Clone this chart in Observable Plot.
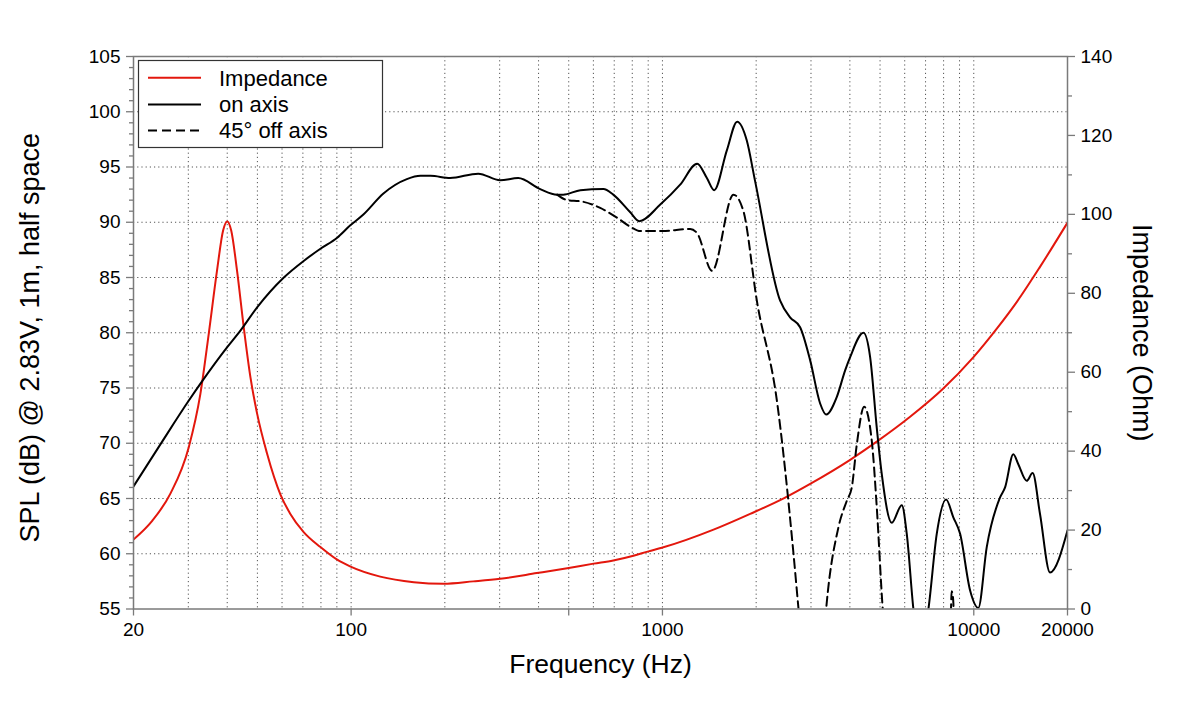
<!DOCTYPE html>
<html>
<head>
<meta charset="utf-8">
<script src="https://cdn.jsdelivr.net/npm/d3@7"></script>
<script src="https://cdn.jsdelivr.net/npm/@observablehq/plot@0.6"></script>
<style>
  html, body { margin: 0; padding: 0; background: #fff; }
  #chart { width: 1200px; height: 720px; }
  svg { font-family: "Liberation Sans", Arial, Helvetica, sans-serif; }
</style>
</head>
<body>
<div id="chart"></div>
<script>
// ---- Data ----
const onAxisFreq = [20, 24.4, 30, 33.2, 40, 44.1, 49.9, 60.8, 70.4, 79.7, 90.2, 99.2, 109.5, 127, 151, 167, 180, 208, 256, 301, 344, 405, 459, 480, 545, 646, 695, 788, 842, 984, 1140, 1293, 1389, 1466, 1610, 1738, 1866, 1985, 2388, 2570, 2768, 2982, 3210, 3356, 3632, 3862, 4008, 4422, 4646, 4880, 5064, 5453, 5872, 6092, 6398, 6700, 7150, 7604, 8148, 8596, 9038, 9728, 10344, 11006, 12146, 12604, 13398, 13900, 14792, 15454, 16320, 17574, 20000];
const onAxisSpl = [66.1, 69.9, 73.8, 75.6, 78.7, 80.2, 82.3, 85.0, 86.5, 87.6, 88.6, 89.7, 90.7, 92.6, 93.9, 94.2, 94.2, 94.0, 94.4, 93.8, 94.0, 93.0, 92.5, 92.5, 92.9, 93.0, 92.5, 90.9, 90.1, 91.6, 93.4, 95.3, 94.0, 92.9, 96.5, 99.1, 97.4, 93.7, 82.9, 81.4, 80.5, 77.5, 73.6, 72.6, 74.2, 76.6, 77.8, 80.0, 77.8, 71.4, 67.2, 62.8, 64.4, 61.8, 55.0, 51.0, 55.0, 61.8, 64.9, 63.3, 61.8, 56.7, 55.1, 60.6, 65.1, 66.0, 69.0, 68.1, 66.6, 67.3, 63.6, 58.3, 62.1];

const offAxisFreq = [459, 495, 545, 631, 716, 788, 849, 1000, 1228, 1293, 1444, 1691, 1820, 2010, 2330, 2636, 2736, 2850, 3250, 3356, 3676, 3910, 4056, 4210, 4444, 4704, 4880, 5100, 5300, 8300, 8440, 8490, 8540, 8600, 8650];
const offAxisSpl = [92.5, 92.0, 91.9, 91.3, 90.4, 89.6, 89.2, 89.2, 89.4, 89.0, 85.6, 92.5, 91.0, 82.9, 73.9, 60.0, 55.0, 50.0, 50.0, 55.0, 62.4, 64.8, 66.0, 69.9, 73.3, 70.2, 64.2, 55.0, 50.0, 48.0, 54.5, 56.6, 56.4, 55.5, 50.0];

const impFreq = [20, 23.0, 26.3, 30.1, 32.8, 34.9, 37.1, 38.8, 40.0, 41.2, 43.0, 45.2, 47.5, 49.9, 53.7, 59.3, 63.8, 70.4, 79.7, 90.2, 99.2, 124, 159, 198, 247, 301, 395, 500, 601, 695, 807, 902, 995, 1459, 1913, 2460, 2982, 4008, 4880, 6244, 7965, 9946, 11873, 13772, 16321, 20000];
const impOhm = [17.6, 22.4, 29.3, 41.0, 54.5, 69.8, 85.8, 95.9, 98.2, 95.9, 85.8, 71.4, 58.7, 49.5, 39.4, 29.0, 24.1, 19.5, 15.7, 12.5, 10.8, 8.2, 6.8, 6.4, 7.0, 7.65, 9.1, 10.4, 11.5, 12.3, 13.5, 14.6, 15.5, 20.1, 24.1, 28.1, 31.7, 37.8, 42.4, 48.7, 55.8, 63.7, 71.1, 77.9, 86.7, 97.9];

// axis ticks / grid
const xTickLabels = [20, 100, 500, 1000, 10000, 20000];
const xGrid = [30, 40, 50, 60, 70, 80, 90, 100, 200, 300, 400, 500, 600, 700, 800, 900, 1000, 2000, 3000, 4000, 5000, 6000, 7000, 8000, 9000, 10000];
const splTicks = [55, 60, 65, 70, 75, 80, 85, 90, 95, 100, 105];
const splGrid = [60, 65, 70, 75, 80, 85, 90, 95, 100];
const ohmTicks = [0, 20, 40, 60, 80, 100, 120, 140];
const ohmMinor = [10, 30, 50, 70, 90, 110, 130];

const legendLabels = ["Impedance", "on axis", "45° off axis"];

// ---- helpers ----
const SPL_MIN = 55, SPL_MAX = 105, OHM_MAX = 140;
const ohmToSpl = o => SPL_MIN + o * (SPL_MAX - SPL_MIN) / OHM_MAX;
const splToOhm = s => (s - SPL_MIN) * OHM_MAX / (SPL_MAX - SPL_MIN);

const onAxis = onAxisFreq.map((f, i) => ({f, v: onAxisSpl[i]}));
const offAxis = offAxisFreq.map((f, i) => ({f, v: offAxisSpl[i]}));
const imp = impFreq.map((f, i) => ({f, v: ohmToSpl(impOhm[i])}));

const splMinor = d3.range(55, 106).filter(d => d % 5 !== 0);

const RED = "#e3170d";
const AX = "#7a7a7a";

const chart = Plot.plot({
  width: 1200,
  height: 720,
  marginLeft: 133,
  marginRight: 133,
  marginTop: 56,
  marginBottom: 111.5,
  style: {fontFamily: '"Liberation Sans", Arial, Helvetica, sans-serif', background: "#fff", color: "#000"},
  x: {type: "log", domain: [20, 20000]},
  y: {domain: [SPL_MIN, SPL_MAX]},
  marks: [
    Plot.ruleX(xGrid, {x: d => d, stroke: "#555", strokeWidth: 1, strokeDasharray: "1.2,3"}),
    Plot.ruleY(splGrid, {y: d => d, stroke: "#555", strokeWidth: 1, strokeDasharray: "1.2,3"}),
    Plot.line(imp, {x: "f", y: "v", stroke: RED, strokeWidth: 2, curve: "monotone-x", clip: true}),
    Plot.line(onAxis, {x: "f", y: "v", stroke: "#000", strokeWidth: 2, curve: "monotone-x", clip: true}),
    Plot.line(offAxis, {x: "f", y: "v", stroke: "#000", strokeWidth: 2, strokeDasharray: "9,5", curve: "monotone-x", clip: true}),
    Plot.frame({stroke: AX, strokeWidth: 1.5}),
    // bottom axis
    Plot.axisX({ticks: xTickLabels, tickFormat: d => String(d), tickSize: 7, tickPadding: 6, fontSize: 19, stroke: AX, fill: "#000", strokeWidth: 1.3, label: null}),
    // left axis
    Plot.axisY({anchor: "left", ticks: splTicks, tickFormat: d => String(d), tickSize: 7, tickPadding: 6, fontSize: 19, stroke: AX, fill: "#000", strokeWidth: 1.3, label: null}),
    Plot.axisY({anchor: "left", ticks: splMinor, tickFormat: () => "", tickSize: 4, stroke: AX, strokeWidth: 1.3, label: null}),
    // right axis (impedance)
    Plot.axisY({anchor: "right", ticks: ohmTicks.map(ohmToSpl), tickFormat: d => String(Math.round(splToOhm(d))), tickSize: 7, tickPadding: 6, fontSize: 19, stroke: AX, fill: "#000", strokeWidth: 1.3, label: null}),
    Plot.axisY({anchor: "right", ticks: ohmMinor.map(ohmToSpl), tickFormat: () => "", tickSize: 4, stroke: AX, strokeWidth: 1.3, label: null}),
    // titles
    Plot.text(["Frequency (Hz)"], {text: d => d, frameAnchor: "bottom", dy: 56, lineAnchor: "middle", fontSize: 26.5, fill: "#000"}),
    Plot.text(["SPL (dB) @ 2.83V, 1m, half space"], {text: d => d, frameAnchor: "left", dx: -103, dy: 5, rotate: -90, textAnchor: "middle", lineAnchor: "middle", fontSize: 27, fill: "#000"}),
    Plot.text(["Impedance (Ohm)"], {text: d => d, frameAnchor: "right", dx: 74, rotate: 90, textAnchor: "middle", lineAnchor: "middle", fontSize: 27, fill: "#000"})
  ]
});

document.getElementById("chart").appendChild(chart);

// ---- legend box (drawn in the plot's SVG) ----
const svg = d3.select(chart);
const lg = svg.append("g").attr("class", "legend").attr("text-anchor", "start");
lg.append("rect")
  .attr("x", 138.5).attr("y", 60.5).attr("width", 244).attr("height", 87)
  .attr("fill", "#fff").attr("stroke", "#333").attr("stroke-width", 1.2);
const styles = [
  {stroke: RED, dash: null},
  {stroke: "#000", dash: null},
  {stroke: "#000", dash: "9,5"}
];
const rowsY = [77.7, 104.5, 130.5];
legendLabels.forEach((lab, i) => {
  const y = rowsY[i];
  const ln = lg.append("line")
    .attr("x1", 148).attr("x2", 201).attr("y1", y).attr("y2", y)
    .attr("stroke", styles[i].stroke).attr("stroke-width", 2);
  if (styles[i].dash) ln.attr("stroke-dasharray", styles[i].dash);
  lg.append("text")
    .attr("x", 219).attr("y", y).attr("dy", "0.36em")
    .attr("text-anchor", "start")
    .attr("font-size", 22).attr("fill", "#000")
    .text(lab);
});
</script>
</body>
</html>
